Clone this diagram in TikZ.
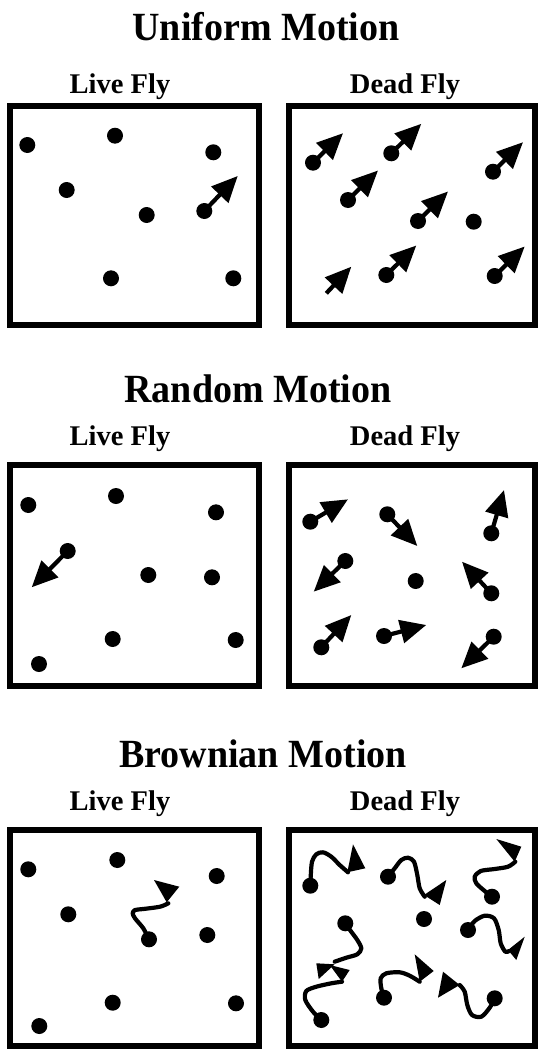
\documentclass[tikz,border=0pt]{standalone}
\usepackage{fontspec}
\setmainfont{Liberation Serif}
\newfontfamily\ttlfont[FakeStretch=0.95]{Liberation Serif}
\usetikzlibrary{arrows.meta}
\begin{document}
\begin{tikzpicture}[x=1pt,y=-1pt,
  boxframe/.style={line width=6pt},
  dot/.style={circle,fill=black,inner sep=0pt,minimum size=16pt},
  arr/.style={line width=4.2pt,-{Triangle[length=26pt,width=23pt]}},
  wig/.style={line width=4.2pt,line cap=round,line join=round},
  headfill/.style={fill=black},
  ttl/.style={anchor=base,font=\ttlfont\bfseries\fontsize{40}{40}\selectfont,inner sep=0pt},
  lbl/.style={anchor=base,font=\bfseries\fontsize{28.5}{28.5}\selectfont,inner sep=0pt}]
\useasboundingbox[fill=white] (0,0) rectangle (538,1049);

% ---------- Row 1: Uniform Motion ----------
\node[ttl] (t1) at (266,41) {Uniform Motion};
\node[lbl] (l1) at (120,93) {Live Fly};
\node[lbl] (r1) at (405,93) {Dead Fly};
\draw[boxframe] (9.5,106) rectangle (259,325);
\draw[boxframe] (289,106) rectangle (535,325);

\node[dot] (ua1) at (27.3,145) {};
\node[dot] (ua2) at (115,135.7) {};
\node[dot] (ua3) at (213.3,152.3) {};
\node[dot] (ua4) at (66.7,190) {};
\node[dot] (ua5) at (146.7,215) {};
\node[dot] (ua6) at (204.3,211) {};
\node[dot] (ua7) at (111,278.3) {};
\node[dot] (ua8) at (233.3,278.3) {};
\draw[arr] (ua6.center) -- ++(33.4,-35);

\node[dot] (ub1) at (313,162.7) {};
\node[dot] (ub2) at (391.3,153.3) {};
\node[dot] (ub3) at (493,171.7) {};
\node[dot] (ub4) at (348,200) {};
\node[dot] (ub5) at (418,221) {};
\node[dot] (ub6) at (473.7,221.7) {};
\coordinate (ub7) at (326.3,293.3);
\node[dot] (ub8) at (386.3,275) {};
\node[dot] (ub9) at (494.7,276) {};
\foreach \n in {ub1,ub2,ub3,ub4,ub5,ub8,ub9}{\draw[arr] (\n.center) -- ++(30,-29.5);}
\draw[arr] (ub7) -- ++(25,-26.6);

% ---------- Row 2: Random Motion ----------
\node[ttl] (t2) at (258,402) {Random Motion};
\node[lbl] (l2) at (120,445) {Live Fly};
\node[lbl] (r2) at (405,445) {Dead Fly};
\draw[boxframe] (10,465) rectangle (259,686);
\draw[boxframe] (289,465) rectangle (535,686);

\node[dot] (ra1) at (28.3,505) {};
\node[dot] (ra2) at (116,496) {};
\node[dot] (ra3) at (216,512.3) {};
\node[dot] (ra4) at (67.7,551) {};
\node[dot] (ra5) at (148.3,575) {};
\node[dot] (ra6) at (212,577.3) {};
\node[dot] (ra7) at (112.7,639) {};
\node[dot] (ra8) at (235.7,640) {};
\node[dot] (ra9) at (39,664) {};
\draw[arr] (ra4.center) -- ++(-36,36.3);

\node[dot] (rb1) at (310.3,521.7) {};
\node[dot] (rb2) at (387.3,514.3) {};
\node[dot] (rb3) at (491.3,533.3) {};
\node[dot] (rb4) at (345.3,561) {};
\node[dot] (rb5) at (415.7,581) {};
\node[dot] (rb6) at (491.3,593.3) {};
\node[dot] (rb7) at (321.3,647.3) {};
\node[dot] (rb8) at (384,636) {};
\node[dot] (rb9) at (493.7,636.7) {};
\draw[arr] (rb1.center) -- ++(37.7,-22.4);
\draw[arr] (rb2.center) -- ++(30,31.7);
\draw[arr] (rb3.center) -- ++(12.7,-43.3);
\draw[arr] (rb4.center) -- ++(-31.6,30.7);
\draw[arr] (rb6.center) -- ++(-29.3,-31.6);
\draw[arr] (rb7.center) -- ++(30,-32.3);
\draw[arr] (rb8.center) -- ++(42.3,-11);
\draw[arr] (rb9.center) -- ++(-32.4,31.6);

% ---------- Row 3: Brownian Motion ----------
\node[ttl] (t3) at (263,767) {Brownian Motion};
\node[lbl] (l3) at (120,810) {Live Fly};
\node[lbl] (r3) at (405,810) {Dead Fly};
\draw[boxframe] (10,830) rectangle (259,1046);
\draw[boxframe] (289,830) rectangle (535,1046);

\node[dot] (ba1) at (28.3,869.3) {};
\node[dot] (ba2) at (117.3,860) {};
\node[dot] (ba3) at (216.7,876) {};
\node[dot] (ba4) at (68.3,914.3) {};
\node[dot] (ba5) at (149,939.3) {};
\node[dot] (ba6) at (207.3,935) {};
\node[dot] (ba7) at (112.7,1002.7) {};
\node[dot] (ba8) at (236,1003.3) {};
\node[dot] (ba9) at (39.3,1026) {};
\draw[wig] plot[smooth] coordinates {(149,939.3) (143.3,928.3) (135,918.3) (132.7,913.3) (135,910) (143.3,909) (160,906.7) (168.3,903.3)};
\fill[headfill] (154,880) -- (179.3,886.7) -- (166.7,902.3) -- cycle;

% Dead fly, Brownian
\node[dot] (bb1) at (310.3,885.7) {};
\node[dot] (bb2) at (388,876.7) {};
\node[dot] (bb3) at (492,896.7) {};
\node[dot] (bb4) at (424,919) {};
\node[dot] (bb5) at (468,930) {};
\node[dot] (bb6) at (345.3,923.3) {};
\node[dot] (bb7) at (321.3,1020) {};
\node[dot] (bb8) at (384,997.7) {};
\node[dot] (bb9) at (494.7,998.3) {};

\draw[wig] plot[smooth] coordinates {(310.3,885.7) (310.7,876.7) (312,861.7) (316.3,854.3) (323,852.3) (331.3,856.7) (339.7,865) (348,872.3)};
\fill[headfill] (353,844.3) -- (365.3,868.3) -- (347.3,872.3) -- cycle;

\draw[wig] plot[smooth] coordinates {(388,876.7) (394.7,868.3) (401.3,860) (408,857.7) (414,861.7) (417.3,875) (419.7,888.3) (424.7,896.7)};
\fill[headfill] (446.3,880) -- (424,895) -- (439.7,905) -- cycle;

\draw[wig] plot[smooth] coordinates {(492,896.7) (484.7,891) (476.3,883.3) (474.7,876.7) (480.7,871) (494.7,869) (508,866.7) (515.3,861.7)};
\fill[headfill] (496.3,839) -- (521.3,846.7) -- (514.7,861.7) -- cycle;

\draw[wig] plot[smooth] coordinates {(468,930) (474.7,921) (484.7,915.7) (494,918.3) (498.7,930) (500.7,943.3) (505.3,951.7) (509,951)};
\fill[headfill] (524.7,936.7) -- (508,950) -- (516.3,960) -- cycle;

\draw[wig] plot[smooth] coordinates {(345.3,923.3) (350.7,931) (357.3,940) (361.3,948.3) (357.3,954.3) (346.3,957.7) (334.7,961.7)};
\fill[headfill] (316.3,963.3) -- (334.7,964.3) -- (318.7,979) -- cycle;

\draw[wig] plot[smooth] coordinates {(321.3,1020) (313,1011.7) (305.3,1000) (306.3,991) (316.3,986.7) (331.3,983.3) (342,981.7)};
\fill[headfill] (329.7,965) -- (349.7,970) -- (342,981.7) -- cycle;

\draw[wig] plot[smooth] coordinates {(384,997.7) (381.3,988.3) (380.7,978.3) (386.3,973.3) (399.7,972.3) (409.7,975.7) (419.7,981.7)};
\fill[headfill] (414.7,954.3) -- (433.7,971) -- (419.7,981.7) -- cycle;

\draw[wig] plot[smooth] coordinates {(494.7,998.3) (489.7,1007.7) (481.3,1016.7) (472,1015) (467.3,1005) (464.7,991.7) (459.7,985)};
\fill[headfill] (443,971.7) -- (438,997.7) -- (459.7,985) -- cycle;
\end{tikzpicture}
\end{document}
